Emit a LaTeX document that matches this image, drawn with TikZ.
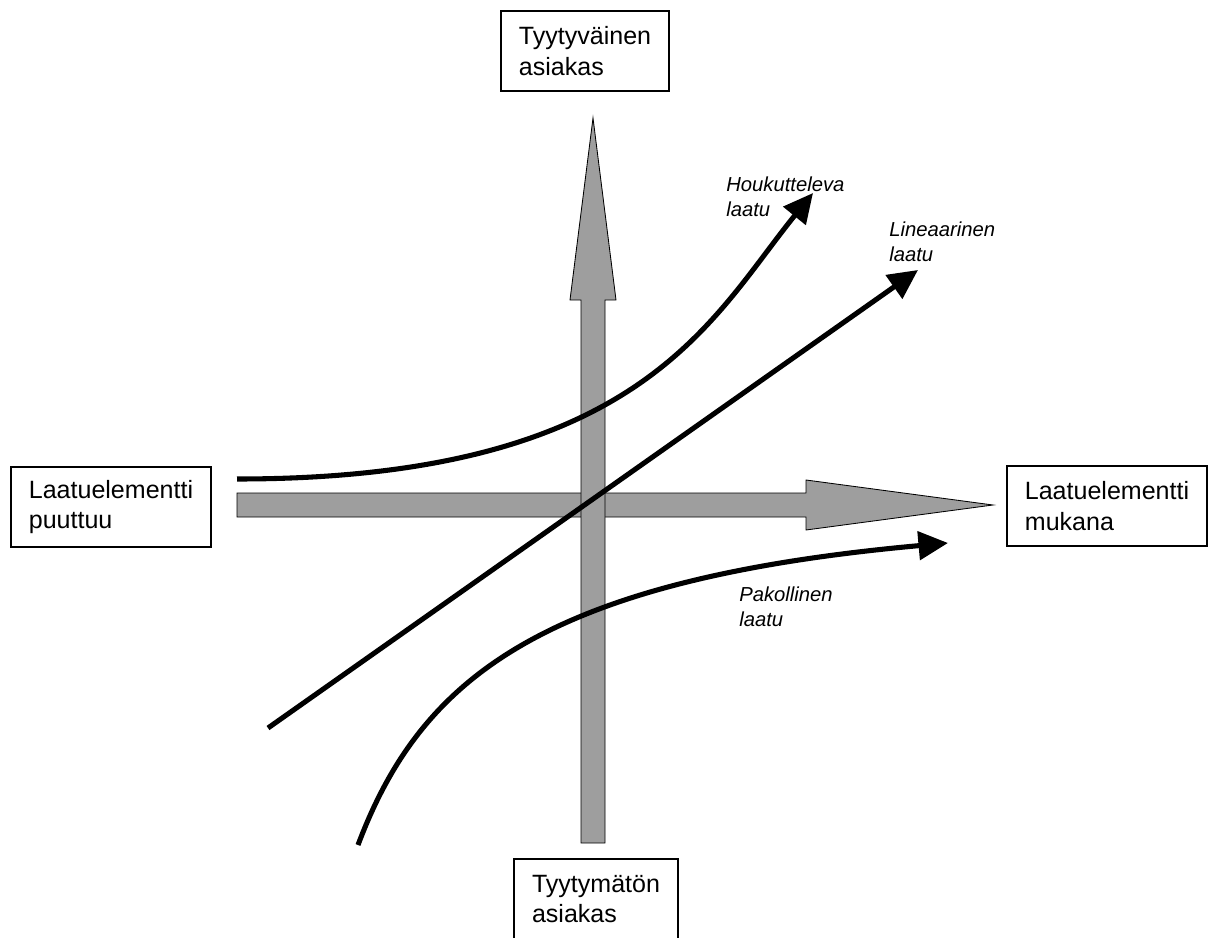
\documentclass[tikz,border=0pt]{standalone}
\usepackage{fontspec}
\setmainfont{Liberation Sans}
\usetikzlibrary{arrows.meta}

\begin{document}
\begin{tikzpicture}[x=0.025cm, y=-0.025cm, >={Triangle[length=21pt,width=20pt]}]
    % Define styles
    \tikzstyle{block} = [rectangle, draw, line width=1.4pt, align=left, inner xsep=0.45cm, minimum height=2cm, font=\fontsize{17.8}{22}\selectfont]
    \tikzstyle{axisarrow} = [draw=black, line width=0.6pt, fill=black!38]
    \tikzstyle{curve} = [draw, line width=3.6pt, ->]
    \tikzstyle{curvelabel} = [anchor=north west, inner sep=0pt, align=left, font=\fontsize{14.4}{17.5}\selectfont\itshape]

    \path[use as bounding box, clip] (0,0) rectangle (1209,938);

    % Axes
    \path[axisarrow] (237,493) -- (806,493) -- (806,480) -- (993,505) -- (806,530) -- (806,517) -- (237,517) -- cycle;
    \path[axisarrow] (581,843) -- (581,300) -- (570,300) -- (593,118) -- (616,300) -- (605,300) -- (605,843) -- cycle;

    % Nodes
    \node[block] (satisfied) at (585,51) {Tyytyväinen\\asiakas};
    \node[block] (dissatisfied) at (596,899) {Tyytymätön\\asiakas};
    \node[block] (absent) at (111,507) {Laatuelementti\\puuttuu};
    \node[block] (present) at (1107,506) {Laatuelementti\\mukana};

    % Curve ends
    \coordinate (attractive start) at (237,479);
    \coordinate (attractive end) at (813,193);
    \coordinate (linear start) at (268,728);
    \coordinate (linear end) at (918,270);
    \coordinate (must start) at (358,845);
    \coordinate (must end) at (948,543);

    % Quality curves
    \draw[curve] (attractive start) .. controls (640,479) and (710,320) .. (attractive end);
    \draw[curve] (linear start) -- (linear end);
    \draw[curve] (must start) .. controls (420,680) and (540,580) .. (must end);

    % Curve labels
    \node[curvelabel] (attractive label) at (726,177) {Houkutteleva\\laatu};
    \node[curvelabel] (linear label) at (889,222) {Lineaarinen\\laatu};
    \node[curvelabel] (must label) at (739,587) {Pakollinen\\laatu};
\end{tikzpicture}
\end{document}
